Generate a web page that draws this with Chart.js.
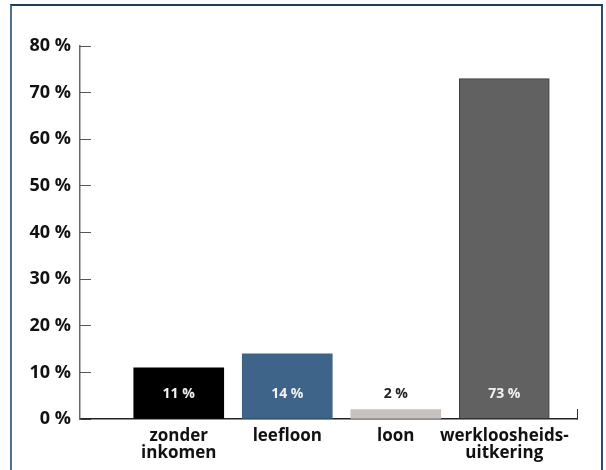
<!DOCTYPE html>
<html>
<head>
<meta charset="utf-8">
<script src="https://cdn.jsdelivr.net/npm/chart.js@4"></script>
<style>
  html, body { margin: 0; padding: 0; background: #fff; }
  #frame {
    position: absolute; left: 10px; top: 4px; width: 589px; height: 480px;
    border-top: 2px solid #1f3b5c; border-left: 2px solid #4c6f93; border-right: 2px solid #2b4b70;
  }
  #wrap { position: absolute; left: 0; top: 0; width: 606px; height: 470px; }
</style>
</head>
<body>
<div id="frame"></div>
<div id="wrap"><canvas id="myChart"></canvas></div>
<script>
const categories = [["zonder", "inkomen"], ["leefloon"], ["loon"], ["werkloosheids-", "uitkering"]];
const positions = [1, 2, 3, 4];
const values = [11, 14, 2, 73];
const barColors = ["#000000", "#3e6489", "#c8c2bf", "#616161"];
const labelColors = ["#f2f2f2", "#f2f2f2", "#222222", "#f2f2f2"];
const yTicks = [0, 10, 20, 30, 40, 50, 60, 70, 80];

const xMin = 0.09;
const xMax = 4.67;

const ctx = document.getElementById('myChart');

// value labels near the bottom of each bar
const valueLabels = {
    id: 'valueLabels',
    afterDatasetsDraw(chart) {
        const c = chart.ctx;
        const meta = chart.getDatasetMeta(0);
        const y = chart.scales.y.getPixelForValue(0) - 25;
        c.save();
        c.font = "bold 14px 'Open Sans'";
        c.textAlign = 'center';
        c.textBaseline = 'middle';
        meta.data.forEach((bar, i) => {
            c.fillStyle = labelColors[i];
            c.fillText(values[i] + ' %', bar.x, y);
        });
        c.restore();
    }
};

new Chart(ctx, {
    type: 'bar',
    data: {
        datasets: [{
            data: positions.map((p, i) => ({ x: p, y: values[i] })),
            backgroundColor: barColors,
            borderColor: ["#000000", "#3e6489", "#c8c2bf", "#3c3c3c"],
            borderWidth: [0, 0, 0, 1],
            borderSkipped: false,
            barThickness: 90
        }]
    },
    options: {
        responsive: true,
        maintainAspectRatio: false,
        animation: false,
        layout: { padding: { top: 46, right: 29, left: 0, bottom: 0 } },
        plugins: { legend: { display: false }, tooltip: { enabled: false } },
        scales: {
            x: {
                type: 'linear',
                min: xMin,
                max: xMax,
                offset: false,
                afterBuildTicks: (scale) => {
                    scale.ticks = positions.map(v => ({ value: v })).concat([{ value: xMax }]);
                },
                afterFit: (scale) => { scale.height = 51; },
                ticks: {
                    autoSkip: false,
                    maxRotation: 0,
                    padding: 19,
                    color: '#111',
                    font: { family: 'Open Sans', size: 17, weight: 'bold', lineHeight: 1.0 },
                    callback: (v) => {
                        const i = positions.indexOf(v);
                        return i >= 0 ? categories[i] : '';
                    }
                },
                grid: {
                    offset: false,
                    drawOnChartArea: false,
                    tickLength: -10,
                    color: (c) => (c.tick && c.tick.value === xMax) ? '#333' : 'rgba(0,0,0,0)',
                    lineWidth: 1
                },
                border: { color: '#222', width: 1.5 }
            },
            y: {
                min: 0,
                max: 80,
                afterBuildTicks: (scale) => {
                    scale.ticks = yTicks.map(v => ({ value: v }));
                },
                afterFit: (scale) => { scale.width = 80; },
                ticks: {
                    padding: 20,
                    color: '#111',
                    font: { family: 'Open Sans', size: 18, weight: 'bold' },
                    callback: (v) => v + ' %'
                },
                grid: {
                    drawOnChartArea: false,
                    tickLength: -11,
                    color: '#555',
                    lineWidth: 1
                },
                border: { color: '#666', width: 1.5 }
            }
        }
    },
    plugins: [valueLabels]
});
</script>
</body>
</html>
